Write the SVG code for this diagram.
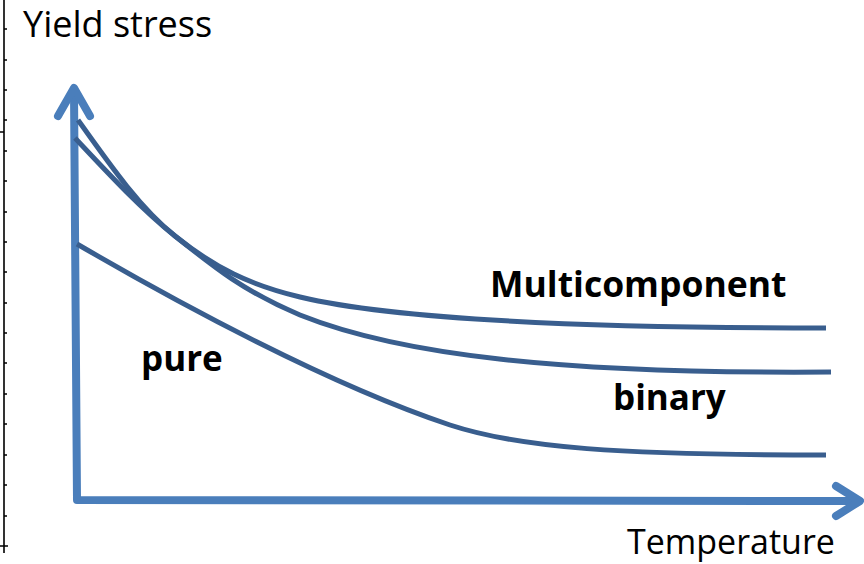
<svg xmlns="http://www.w3.org/2000/svg" width="864" height="564" viewBox="0 0 864 564">
<style>
.axis{fill:none;stroke:#4a7ebb;stroke-width:8;stroke-linecap:round;stroke-linejoin:round}
.curve{fill:none;stroke:#395e8e;stroke-width:5}
.rule{fill:none;stroke:#000;stroke-width:1.6}
.lbl{font-family:"Open Sans","Noto Sans",sans-serif;fill:#000}
.b{font-weight:bold}
</style>
<rect width="864" height="564" fill="#fff"/>
<g id="ruler">
<path class="rule" d="M4,0V553 M4,29H7 M4,60H7 M4,90H7 M4,120H7 M4,151H7 M4,181H7 M4,212H7 M4,242H7 M4,272H7 M4,303H7 M4,333H7 M4,363H7 M4,394H7 M4,424H7 M4,455H7 M4,485H7 M4,516H7 M0,546H8 M0,132H4"/>
</g>
<g id="axes">
<path class="axis" d="M74,90 L77,500 L856,501"/>
<path class="axis" d="M58,116 L74,88 L90,116"/>
<path class="axis" d="M836,486 L860,501 L836,516"/>
</g>
<g id="connectors">
<path id="multicomponent-curve" class="curve" d="M78,120 C110,165 140,208 175,236 C215,268 250,285 300,297 C400,321 600,328 826,328"/>
<path id="binary-curve" class="curve" d="M75,138 C105,170 140,208 175,236 C215,268 245,292 300,315 C400,355 560,374 831,372"/>
<path id="pure-curve" class="curve" d="M77,244 C180,304 330,385 450,425 C520,448 620,455 826,455"/>
</g>
<g id="labels">
<text class="lbl" x="23" y="37" font-size="36">Yield stress</text>
<text class="lbl" x="627" y="554" font-size="34">Temperature</text>
<text class="lbl b" x="490" y="297" font-size="35.5">Multicomponent</text>
<text class="lbl b" x="141" y="371" font-size="35">pure</text>
<text class="lbl b" x="613" y="410" font-size="35">binary</text>
</g>
</svg>
